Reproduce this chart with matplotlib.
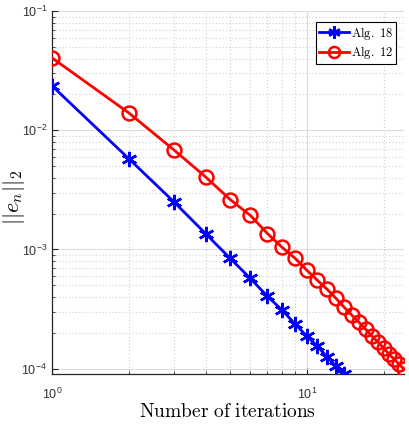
import matplotlib
matplotlib.use("Agg")
import matplotlib.pyplot as plt
from matplotlib.ticker import LogLocator, NullFormatter

# iteration counts and error norms
iters_a18 = list(range(1, 15))
err_a18 = [2.36e-2, 5.78e-3, 2.52e-3, 1.36e-3, 8.41e-4, 5.71e-4, 4.04e-4,
           3.09e-4, 2.36e-4, 1.87e-4, 1.54e-4, 1.25e-4, 1.05e-4, 9.0e-5]

iters_a12 = list(range(1, 25))
err_a12 = [4.05e-2, 1.40e-2, 6.87e-3, 4.07e-3, 2.62e-3, 1.93e-3, 1.36e-3,
           1.04e-3, 8.41e-4, 6.68e-4, 5.50e-4, 4.63e-4, 3.89e-4, 3.27e-4,
           2.81e-4, 2.45e-4, 2.14e-4, 1.87e-4, 1.67e-4, 1.49e-4, 1.32e-4,
           1.20e-4, 1.09e-4, 9.9e-5]

labels = ["Alg. 18", "Alg. 12"]

plt.rcParams['mathtext.fontset'] = 'cm'
plt.rcParams['font.family'] = ['Liberation Sans', 'DejaVu Sans']


def tex(s):
    return r'$\mathrm{' + s.replace(' ', r'\ ') + '}$'


fig = plt.figure(figsize=(4.1, 4.29), dpi=100)
ax = fig.add_axes([0.127, 0.128, 0.858, 0.846])

# MATLAB-like asterisk: 6 arms
ax.loglog(iters_a18, err_a18, color='#0000ff', lw=2, marker=(6, 2, 0),
          markersize=11, markeredgewidth=1.8, label=tex(labels[0]), zorder=3)
ax.loglog(iters_a12, err_a12, color='#ff0000', lw=2, marker='o',
          markersize=10, markerfacecolor='none', markeredgewidth=1.8,
          label=tex(labels[1]), zorder=3)

ax.set_xlim(1, 24)
ax.set_ylim(9.0e-5, 1e-1)

ax.xaxis.set_major_locator(LogLocator(base=10))
ax.xaxis.set_minor_locator(LogLocator(base=10, subs=range(2, 10)))
ax.xaxis.set_minor_formatter(NullFormatter())
ax.yaxis.set_minor_locator(LogLocator(base=10, subs=range(2, 10)))
ax.yaxis.set_minor_formatter(NullFormatter())

ax.grid(True, which='major', color='#dcdcdc', lw=0.8, ls='-')
ax.grid(True, which='minor', color='#d0d0d0', lw=0.8, ls=(0, (1, 2)))
ax.set_axisbelow(True)

for s in ['top', 'right']:
    ax.spines[s].set_visible(False)
for s in ['left', 'bottom']:
    ax.spines[s].set_color('#262626')
    ax.spines[s].set_linewidth(0.9)

ax.tick_params(which='both', direction='in', colors='#262626',
               labelsize=9, labelcolor='#333333')
ax.tick_params(which='major', length=4)
ax.tick_params(which='minor', length=2.5)
ax.tick_params(axis='x', pad=9)

ax.set_xlabel(tex('Number of iterations'), fontsize=14, labelpad=1)
fig.text(14 / 410, 1 - 197 / 429, r'$||e_n||_2$', fontsize=16,
         rotation=90, ha='center', va='center')

leg = ax.legend(loc='upper right', fontsize=9, frameon=True, fancybox=False,
                edgecolor='black', framealpha=1, handlelength=2.4,
                bbox_to_anchor=(396 / 410, 1 - 22 / 429),
                bbox_transform=fig.transFigure, borderaxespad=0,
                borderpad=0.2, labelspacing=0.2, handletextpad=0.2,
                markerscale=0.8)
leg.get_frame().set_linewidth(0.8)

fig.savefig('out.png', dpi=100)
